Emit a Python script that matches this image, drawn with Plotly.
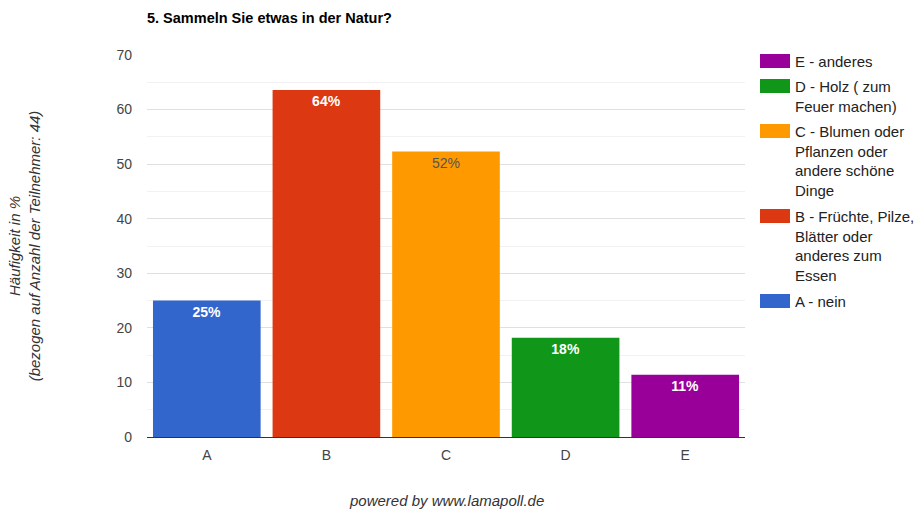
import plotly.graph_objects as go

categories = ["A", "B", "C", "D", "E"]
values = [25.0, 63.6, 52.3, 18.2, 11.4]
labels = ["25%", "64%", "52%", "18%", "11%"]
legend_names = [
    "A - nein",
    "B - Früchte, Pilze,<br>Blätter oder<br>anderes zum<br>Essen",
    "C - Blumen oder<br>Pflanzen oder<br>andere schöne<br>Dinge",
    "D - Holz ( zum<br>Feuer machen)",
    "E - anderes",
]
colors = ["#3366cc", "#dc3912", "#ff9900", "#109618", "#990099"]
text_colors = ["#ffffff", "#ffffff", "#555555", "#ffffff", "#ffffff"]
y_ticks = [0, 10, 20, 30, 40, 50, 60, 70]

FONT = "Liberation Sans, Arial, sans-serif"
W, H = 924, 510
L, R, T, B = 147, 179, 55, 73
PH = H - T - B

def py(pix):  # page y pixel -> paper y
    return (H - B - pix) / PH

def px(pix):
    return (pix - L) / (W - L - R)

fig = go.Figure()
for cat, v, lab, name, col, tc in zip(categories, values, labels, legend_names, colors, text_colors):
    bold = tc == "#ffffff"
    fig.add_trace(go.Bar(
        x=[cat], y=[v], name=name,
        text=[f"<b>{lab}</b>" if bold else lab],
        textposition="inside", insidetextanchor="end",
        textfont=dict(color=tc, size=14, family=FONT),
        marker=dict(color=col, line=dict(width=0)),
        width=0.9, showlegend=False,
        hoverinfo="skip",
    ))

# manual legend (reversed order, wide swatches)
shapes = []
annotations = []
y_cur = 61
line_h = 20
gap = 25
for name, col in list(zip(legend_names, colors))[::-1]:
    nlines = name.count("<br>") + 1
    shapes.append(dict(type="rect", xref="paper", yref="paper",
                       x0=px(760), x1=px(790), y0=py(y_cur - 7), y1=py(y_cur + 7),
                       fillcolor=col, line=dict(width=0)))
    annotations.append(dict(text=name, x=px(793), y=py(y_cur - 10), xref="paper", yref="paper",
                            xanchor="left", yanchor="top", align="left", showarrow=False,
                            font=dict(size=15, color="#222222", family=FONT)))
    y_cur += (nlines - 1) * line_h + gap

annotations.append(dict(text="<i>powered by www.lamapoll.de</i>", x=px(446), y=py(500),
                        xref="paper", yref="paper", showarrow=False,
                        xanchor="center", yanchor="middle",
                        font=dict(size=15, color="#333333", family=FONT)))

fig.update_layout(
    width=W, height=H,
    margin=dict(l=L, r=R, t=T, b=B),
    barmode="overlay",
    plot_bgcolor="white", paper_bgcolor="white",
    font=dict(family=FONT, size=14, color="#444444"),
    title=dict(text="<b>5. Sammeln Sie etwas in der Natur?</b>", x=147/924, xanchor="left",
               y=1 - 18/510, yanchor="middle",
               font=dict(size=14.5, color="#000000")),
    xaxis=dict(showgrid=False, tickfont=dict(size=14, color="#444444"), ticks="", showline=False,
               ticklabelstandoff=8),
    yaxis=dict(range=[0, 70], tickvals=y_ticks, gridcolor="#e0e0e0", zeroline=True,
               zerolinecolor="#333333", zerolinewidth=1,
               tickfont=dict(size=14, color="#444444"),
               ticklabelstandoff=14,
               minor=dict(dtick=5, showgrid=True, gridcolor="#f2f2f2"),
               title=dict(text="<i>Häufigkeit in %<br>(bezogen auf Anzahl der Teilnehmer: 44)</i>",
                          font=dict(size=15, color="#333333"), standoff=72)),
    showlegend=False,
    shapes=shapes,
    annotations=annotations,
)
fig.write_html("out.html")
